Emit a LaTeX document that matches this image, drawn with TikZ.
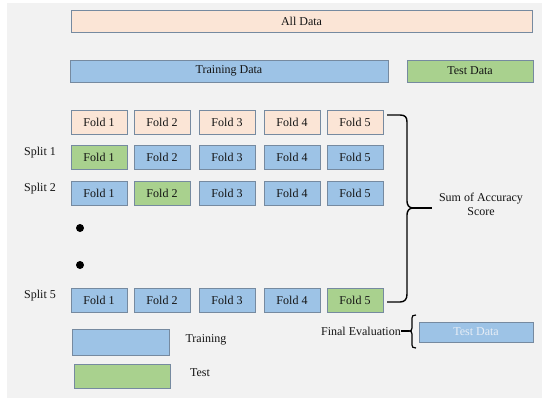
\documentclass[tikz,border=0pt]{standalone}
\usepackage{fontspec}
\setmainfont{Liberation Serif}
\definecolor{peach}{RGB}{251,229,214}
\definecolor{bluef}{RGB}{157,195,230}
\definecolor{greenf}{RGB}{169,209,142}
\definecolor{edgec}{RGB}{118,138,160}
\definecolor{panel}{RGB}{242,242,242}
\definecolor{txt}{RGB}{20,20,20}
\definecolor{lighttxt}{RGB}{232,238,246}
\begin{document}
\begin{tikzpicture}[x=1pt,y=-1pt,
  lbl/.style={inner sep=0pt,text=txt,font=\fontsize{12}{14}\selectfont},
  box/.style={lbl,draw=edgec,line width=0.8pt},
  fold/.style={box,minimum width=56pt,minimum height=24pt},
  pfold/.style={fold,fill=peach},
  bfold/.style={fold,fill=bluef},
  gfold/.style={fold,fill=greenf},
  brace/.style={draw=black,line width=1.4pt}]
\useasboundingbox (0,0) rectangle (550,408);
\fill[white] (0,0) rectangle (550,408);
\fill[panel] (7,3) rectangle (542,398);

% top bars
\node[box,fill=peach,minimum width=461pt,minimum height=22pt] (all) at (301.5,21) {All Data};
\node[box,fill=bluef,minimum width=318pt,minimum height=22pt] (train) at (229,71) {Training Data};
\node[box,fill=greenf,minimum width=126pt,minimum height=22pt] (test) at (470,71) {Test Data};

% fold rows
\node[pfold] (f01) at (99,122) {Fold 1};
\node[pfold] (f02) at (162,122) {Fold 2};
\node[pfold] (f03) at (227,122) {Fold 3};
\node[pfold] (f04) at (292,122) {Fold 4};
\node[pfold] (f05) at (355,122) {Fold 5};

\node[lbl] (s1) at (40,153) {Split 1};
\node[gfold] (f11) at (99,157.5) {Fold 1};
\node[bfold] (f12) at (162,157.5) {Fold 2};
\node[bfold] (f13) at (227,157.5) {Fold 3};
\node[bfold] (f14) at (292,157.5) {Fold 4};
\node[bfold] (f15) at (355,157.5) {Fold 5};

\node[lbl] (s2) at (40,189) {Split 2};
\node[bfold] (f21) at (99,193) {Fold 1};
\node[gfold] (f22) at (162,193) {Fold 2};
\node[bfold] (f23) at (227,193) {Fold 3};
\node[bfold] (f24) at (292,193) {Fold 4};
\node[bfold] (f25) at (355,193) {Fold 5};

\fill[black] (80,228) circle (4);
\fill[black] (80,265) circle (4);

\node[lbl] (s5) at (40,296) {Split 5};
\node[bfold] (f51) at (99,300.5) {Fold 1};
\node[bfold] (f52) at (162,300.5) {Fold 2};
\node[bfold] (f53) at (227,300.5) {Fold 3};
\node[bfold] (f54) at (292,300.5) {Fold 4};
\node[gfold] (f55) at (355,300.5) {Fold 5};

% right brace
\coordinate (btop) at (387,115);
\coordinate (bbot) at (387,302);
\coordinate (btip) at (413,208);
\node[lbl,align=center] (sum) at (481,204.5) {Sum of Accuracy\\Score};
\draw[brace] (btop) -- (400,115) .. controls (405,115) and (407,117) .. (407,122)
  -- (407,201) .. controls (407,205) and (409,208) .. (btip)
  .. controls (409,208) and (407,211) .. (407,215)
  -- (407,294) .. controls (407,299) and (405,302) .. (400,302) -- (bbot);
\draw[brace] (btip) -- (432,208);

% legend
\node[box,fill=bluef,minimum width=97pt,minimum height=26pt] (legtr) at (120.5,342) {};
\node[lbl] (legtrl) at (206,340) {Training};
\node[box,fill=greenf,minimum width=96pt,minimum height=24pt] (legte) at (122,376) {};
\node[lbl] (legtel) at (200,373) {Test};

% final evaluation
\node[lbl,anchor=east] (fe) at (401,331) {Final Evaluation};
\node[box,fill=bluef,text=lighttxt,minimum width=114pt,minimum height=20pt] (ftest) at (476,332) {Test Data};
\coordinate (lbtip) at (409,331);
\draw[brace,line width=1.2pt] (416,315) .. controls (413,315) and (412,316) .. (412,318)
  -- (412,328) .. controls (412,330) and (411,331) .. (lbtip)
  .. controls (411,331) and (412,332) .. (412,334)
  -- (412,345) .. controls (412,347) and (413,348) .. (416,348);
\draw[line width=1.2pt] (fe.east) -- (lbtip);
\end{tikzpicture}
\end{document}
